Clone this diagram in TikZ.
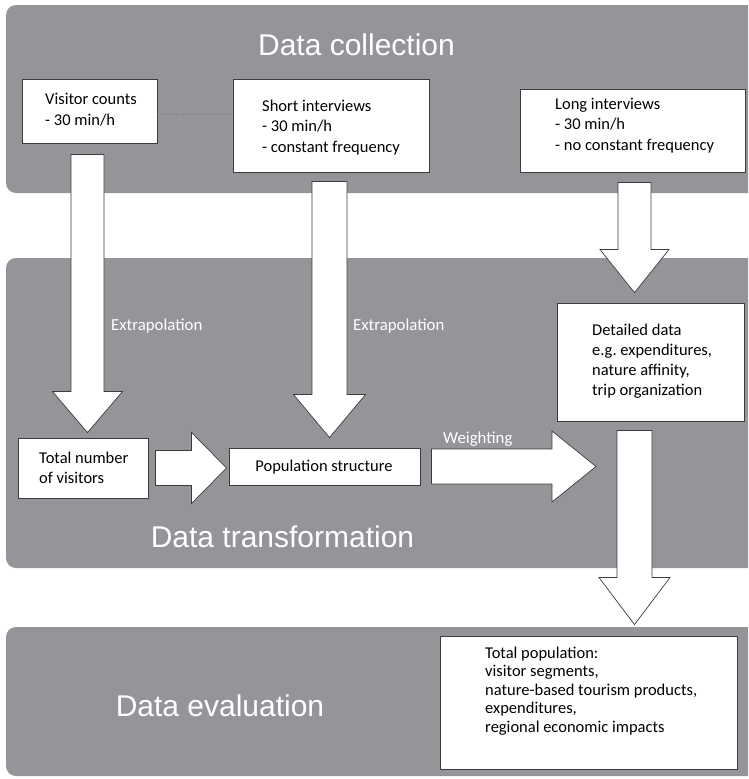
\documentclass[tikz,border=0pt]{standalone}
\usepackage{fontspec}
\setmainfont{Carlito}
\newfontfamily\titlefont{Liberation Sans}
\usetikzlibrary{calc}

\definecolor{panelgray}{RGB}{147,149,152}
\definecolor{edgegray}{RGB}{60,60,62}
\definecolor{dotgray}{RGB}{120,120,122}

% left-aligned lines, baseline at the first line
\newcommand\stack[1]{\begin{tabular}[t]{@{}l@{}}#1\end{tabular}}

% block arrow pointing down: start, tip, half shaft, half head, head length
\newcommand\blockdown[5]{%
  \draw[blockarrow] let \p1=(#1), \p2=(#2) in
    ({\x1-#3pt},\y1) -- ({\x1+#3pt},\y1) -- ({\x1+#3pt},{\y2+#5pt})
    -- ({\x1+#4pt},{\y2+#5pt}) -- (\x1,\y2) -- ({\x1-#4pt},{\y2+#5pt})
    -- ({\x1-#3pt},{\y2+#5pt}) -- cycle;}
% block arrow pointing right: start, tip, half shaft, half head, head length
\newcommand\blockright[5]{%
  \draw[blockarrow] let \p1=(#1), \p2=(#2) in
    (\x1,{\y1+#3pt}) -- ({\x2-#5pt},{\y1+#3pt}) -- ({\x2-#5pt},{\y1+#4pt})
    -- (\x2,\y1) -- ({\x2-#5pt},{\y1-#4pt}) -- ({\x2-#5pt},{\y1-#3pt})
    -- (\x1,{\y1-#3pt}) -- cycle;}

\begin{document}
\frenchspacing
\begin{tikzpicture}[x=1pt,y=-1pt,
  panel/.style={fill=panelgray, draw=none, rounded corners=10pt},
  stage/.style={font=\titlefont\fontsize{30}{35}\selectfont, text=white, inner sep=0, anchor=base},
  box/.style={draw=edgegray, line width=0.9pt, fill=white, inner sep=0},
  boxtext/.style={font=\fontsize{16.5}{#1}\selectfont, inner sep=0, anchor=base west},
  boxtext/.default=20.5,
  flowlabel/.style={font=\fontsize{16.8}{20}\selectfont, text=white, inner sep=0, anchor=base west},
  blockarrow/.style={fill=white, draw=edgegray, line width=0.7pt, line join=miter},
  dotline/.style={draw=dotgray, line width=0.6pt, dotted}
]
\clip (0,0) rectangle (748,779);
\fill[white] (0,0) rectangle (748,779);

% stage panels
\path[panel] (6,5) rectangle (770,193);
\path[panel] (6,258) rectangle (770,568);
\path[panel] (6,627) rectangle (770,776);

% boxes
\node[box, minimum width=135pt, minimum height=64pt] (vc) at (89.5,111) {};
\node[box, minimum width=196pt, minimum height=93pt] (si) at (331,125.5) {};
\node[box, minimum width=225pt, minimum height=83pt] (li) at (632.5,130.5) {};
\node[box, minimum width=187pt, minimum height=118pt] (dd) at (650.5,362) {};
\node[box, minimum width=130pt, minimum height=60pt] (tn) at (83,468) {};
\node[box, minimum width=191pt, minimum height=37pt] (ps) at (324.5,466.5) {};
\node[box, minimum width=297pt, minimum height=133pt] (tp) at (588.5,702.5) {};
\coordinate (wtip) at (596,467);

% link between counting and short interviews
\draw[dotline] ($(vc.east)+(0,3)$) coordinate (d1) -- (si.west |- d1);

% flow arrows
\blockdown{$(vc.south)+(-2,11)$}{$(tn.north)+(0,-5)$}{16.5}{35}{41}
\blockdown{$(si.south)+(-1.5,9)$}{$(ps.north)+(0,-10)$}{17.5}{36}{43}
\blockdown{$(li.south)+(2,10)$}{$(dd.north)+(0,-10)$}{16.5}{34.5}{43}
\blockdown{$(dd.south)+(-16,9)$}{$(tp.north)+(0,-11)$}{17.5}{35.5}{47}
\blockright{$(tn.east)+(7,0)$}{$(ps.west)+(-2,0)$}{17.5}{35.5}{35}
\blockright{$(ps.east)+(11,0)$}{wtip}{17.5}{35.5}{44}

% stage titles
\node[stage] (t1) at (356.5,55) {Data collection};
\node[stage] (t2) at (282.5,547) {Data transformation};
\node[stage] (t3) at (220,716) {Data evaluation};

% box contents
\node[boxtext=21] (vct) at (45,104) {\stack{Visitor counts\\- 30 min/h}};
\node[boxtext] (sit) at (262,111) {\stack{Short interviews\\- 30 min/h\\- constant frequency}};
\node[boxtext] (lit) at (555,109) {\stack{Long interviews\\- 30 min/h\\- no constant frequency}};
\node[boxtext=20] (ddt) at (592,335) {\stack{Detailed data\\e.g. expenditures,\\nature affinity,\\trip organization}};
\node[boxtext=20] (tnt) at (39,463) {\stack{Total number\\of visitors}};
\node[boxtext, anchor=base] (pst) at (324,471) {Population structure};
\node[boxtext=18.5] (tpt) at (485,658) {\stack{Total population:\\visitor segments,\\nature-based tourism products,\\expenditures,\\regional economic impacts}};

% arrow labels
\node[flowlabel] (x1) at (111,330) {Extrapolation};
\node[flowlabel] (x2) at (353,330) {Extrapolation};
\node[flowlabel] (w1) at (443,443) {Weighting};
\end{tikzpicture}
\end{document}
